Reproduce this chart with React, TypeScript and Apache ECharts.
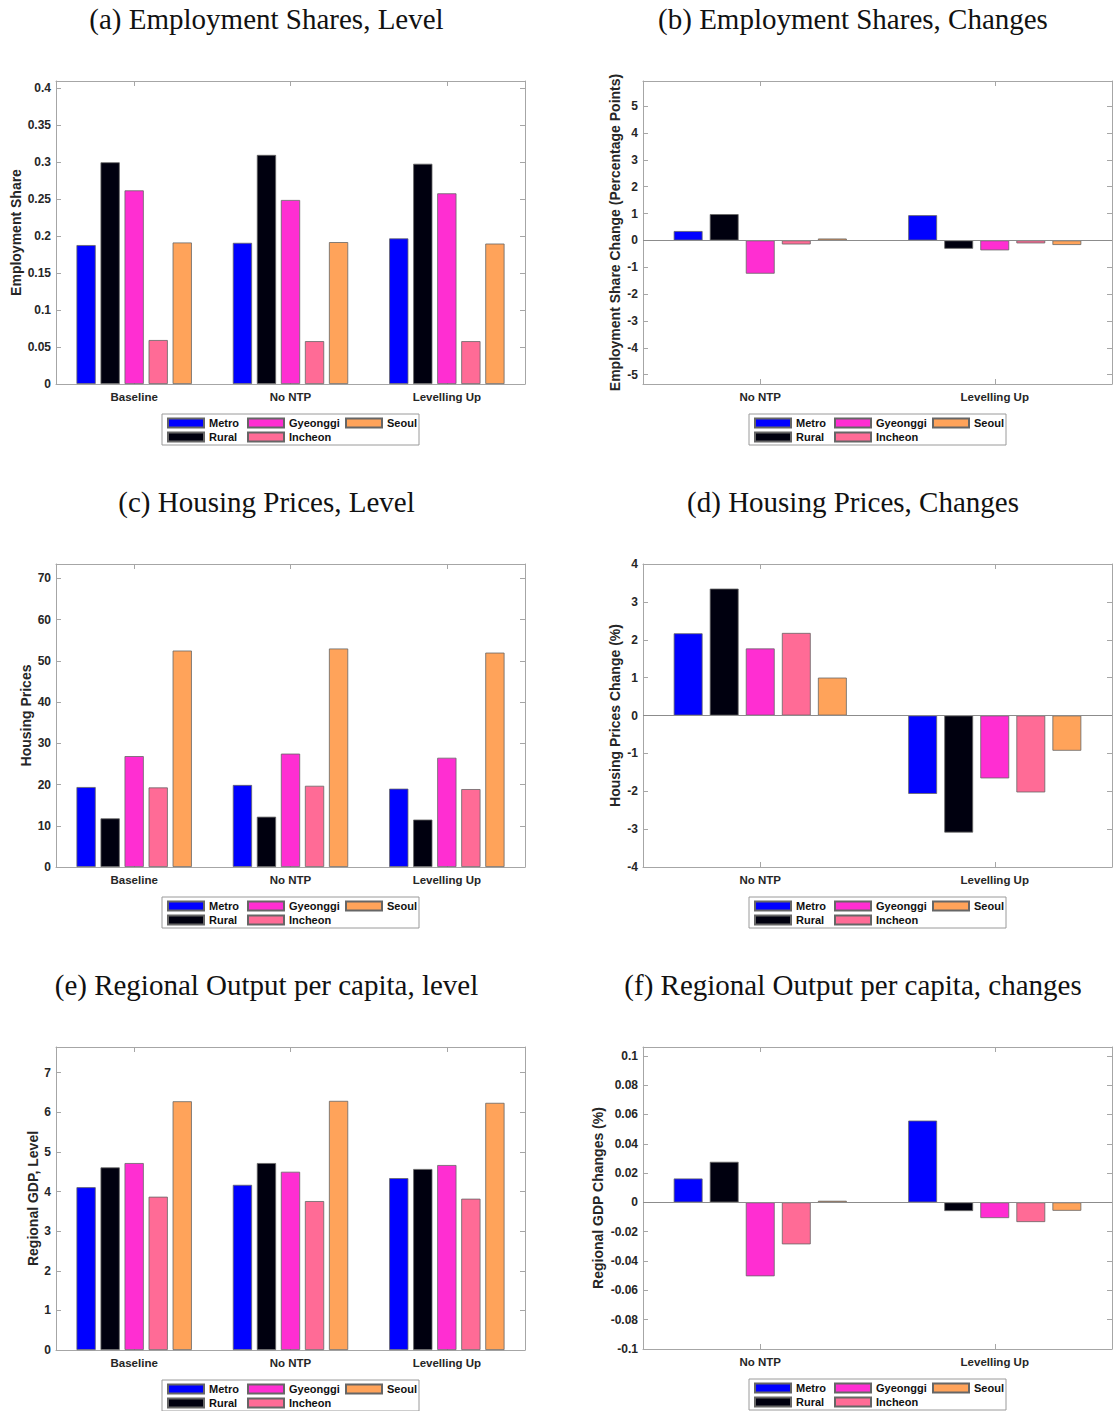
import React, { useEffect, useRef } from "react";
import * as echarts from "echarts";

// ---- categories and series names ----
const SCENARIOS_LEVEL = ["Baseline", "No NTP", "Levelling Up"];
const SCENARIOS_CHANGE = ["No NTP", "Levelling Up"];
const REGIONS = ["Metro", "Rural", "Gyeonggi", "Incheon", "Seoul"];
const REGION_COLORS = ["#0000ff", "#00000f", "#ff2ed2", "#ff6b96", "#ffa35a"];

// ---- (a) employment shares, level (rows follow REGIONS) ----
const empMetro = [0.188, 0.191, 0.197];
const empRural = [0.3, 0.31, 0.298];
const empGyeonggi = [0.262, 0.249, 0.258];
const empIncheon = [0.0595, 0.058, 0.058];
const empSeoul = [0.1915, 0.192, 0.19];

// ---- (b) employment shares, change in percentage points ----
const empChgMetro = [0.35, 0.94];
const empChgRural = [0.98, -0.31];
const empChgGyeonggi = [-1.24, -0.37];
const empChgIncheon = [-0.15, -0.11];
const empChgSeoul = [0.07, -0.17];

// ---- (c) housing prices, level ----
const hpMetro = [19.4, 19.9, 19.0];
const hpRural = [11.8, 12.2, 11.5];
const hpGyeonggi = [26.9, 27.5, 26.5];
const hpIncheon = [19.3, 19.7, 18.9];
const hpSeoul = [52.5, 53.0, 52.0];

// ---- (d) housing prices, change (%) ----
const hpChgMetro = [2.17, -2.07];
const hpChgRural = [3.35, -3.09];
const hpChgGyeonggi = [1.77, -1.66];
const hpChgIncheon = [2.18, -2.03];
const hpChgSeoul = [1.0, -0.93];

// ---- (e) regional output per capita, level ----
const gdpMetro = [4.11, 4.17, 4.34];
const gdpRural = [4.61, 4.72, 4.57];
const gdpGyeonggi = [4.72, 4.5, 4.67];
const gdpIncheon = [3.87, 3.76, 3.82];
const gdpSeoul = [6.28, 6.29, 6.24];

// ---- (f) regional output per capita, change (%) ----
const gdpChgMetro = [0.0163, 0.0558];
const gdpChgRural = [0.0277, -0.0059];
const gdpChgGyeonggi = [-0.0504, -0.0107];
const gdpChgIncheon = [-0.0286, -0.0134];
const gdpChgSeoul = [0.0011, -0.0057];

const SANS = "'Liberation Sans', Arial, Helvetica, sans-serif";
const SERIF = "'Liberation Serif', 'Times New Roman', serif";
const LABEL_COLOR = "#262626";
const FRAME_COLOR = "#a6a6a6";

type Panel = {
  title: string;
  yName: string;
  nameGap: number;
  cats: string[];
  values: number[][];
  yMin: number;
  yMax: number;
  step: number;
  fixedStep: boolean; // true: interval from min; false: nice ticks forced to step
  showMin: boolean;
  showMax: boolean;
  change: boolean;
  left: number;
  top: number;
  height: number;
};

const PLOT_W = 469;
const COL_LEFT = [56, 643];
const ROW_TOP = [81, 564, 1047];

const panels: Panel[] = [
  {
    title: "(a) Employment Shares, Level",
    yName: "Employment Share",
    nameGap: 33,
    cats: SCENARIOS_LEVEL,
    values: [empMetro, empRural, empGyeonggi, empIncheon, empSeoul],
    yMin: 0, yMax: 0.41, step: 0.05, fixedStep: true,
    showMin: true, showMax: false, change: false,
    left: COL_LEFT[0], top: ROW_TOP[0], height: 303,
  },
  {
    title: "(b) Employment Shares, Changes",
    yName: "Employment Share Change (Percentage Points)",
    nameGap: 21,
    cats: SCENARIOS_CHANGE,
    values: [empChgMetro, empChgRural, empChgGyeonggi, empChgIncheon, empChgSeoul],
    yMin: -5.35, yMax: 5.94, step: 1, fixedStep: false,
    showMin: false, showMax: false, change: true,
    left: COL_LEFT[1], top: ROW_TOP[0], height: 303,
  },
  {
    title: "(c) Housing Prices, Level",
    yName: "Housing Prices",
    nameGap: 23,
    cats: SCENARIOS_LEVEL,
    values: [hpMetro, hpRural, hpGyeonggi, hpIncheon, hpSeoul],
    yMin: 0, yMax: 73.5, step: 10, fixedStep: true,
    showMin: true, showMax: false, change: false,
    left: COL_LEFT[0], top: ROW_TOP[1], height: 303,
  },
  {
    title: "(d) Housing Prices, Changes",
    yName: "Housing Prices Change (%)",
    nameGap: 21,
    cats: SCENARIOS_CHANGE,
    values: [hpChgMetro, hpChgRural, hpChgGyeonggi, hpChgIncheon, hpChgSeoul],
    yMin: -4, yMax: 4, step: 1, fixedStep: true,
    showMin: true, showMax: true, change: true,
    left: COL_LEFT[1], top: ROW_TOP[1], height: 303,
  },
  {
    title: "(e) Regional Output per capita, level",
    yName: "Regional GDP, Level",
    nameGap: 16,
    cats: SCENARIOS_LEVEL,
    values: [gdpMetro, gdpRural, gdpGyeonggi, gdpIncheon, gdpSeoul],
    yMin: 0, yMax: 7.65, step: 1, fixedStep: true,
    showMin: true, showMax: false, change: false,
    left: COL_LEFT[0], top: ROW_TOP[2], height: 303,
  },
  {
    title: "(f) Regional Output per capita, changes",
    yName: "Regional GDP Changes (%)",
    nameGap: 38,
    cats: SCENARIOS_CHANGE,
    values: [gdpChgMetro, gdpChgRural, gdpChgGyeonggi, gdpChgIncheon, gdpChgSeoul],
    yMin: -0.1, yMax: 0.106, step: 0.02, fixedStep: true,
    showMin: true, showMax: false, change: true,
    left: COL_LEFT[1], top: ROW_TOP[2], height: 302,
  },
];

const frameLine = { show: true, onZero: false, lineStyle: { color: FRAME_COLOR, width: 1 } };
const innerTick = { show: true, inside: true, length: 5, lineStyle: { color: FRAME_COLOR, width: 1 } };

function buildOption() {
  const grid: any[] = [];
  const xAxis: any[] = [];
  const yAxis: any[] = [];
  const series: any[] = [];
  const legend: any[] = [];
  const graphic: any[] = [];

  panels.forEach((p, i) => {
    grid.push({ left: p.left, top: p.top, width: PLOT_W, height: p.height, containLabel: false });

    // bottom and top category axes (the top one only closes the frame)
    xAxis.push({
      gridIndex: i,
      type: "category",
      data: p.cats,
      position: "bottom",
      axisLine: frameLine,
      axisTick: { ...innerTick, alignWithLabel: true },
      axisLabel: {
        margin: 7,
        fontFamily: SANS,
        fontSize: 11.5,
        fontWeight: "bold",
        color: LABEL_COLOR,
      },
      splitLine: { show: false },
    });
    xAxis.push({
      gridIndex: i,
      type: "category",
      data: p.cats,
      position: "top",
      axisLine: frameLine,
      axisTick: { ...innerTick, alignWithLabel: true },
      axisLabel: { show: false },
      splitLine: { show: false },
    });

    const scale: any = { min: p.yMin, max: p.yMax };
    if (p.fixedStep) scale.interval = p.step;
    else {
      scale.minInterval = p.step;
      scale.maxInterval = p.step;
    }

    yAxis.push({
      gridIndex: i,
      type: "value",
      position: "left",
      ...scale,
      name: p.yName,
      nameLocation: "middle",
      nameRotate: 90,
      nameGap: p.nameGap,
      nameTextStyle: { fontFamily: SANS, fontSize: 14, fontWeight: "bold", color: LABEL_COLOR },
      axisLine: frameLine,
      axisTick: innerTick,
      splitLine: { show: false },
      axisLabel: {
        margin: 5,
        fontFamily: SANS,
        fontSize: 12,
        fontWeight: "bold",
        color: LABEL_COLOR,
        showMinLabel: p.showMin,
        showMaxLabel: p.showMax,
      },
    });
    yAxis.push({
      gridIndex: i,
      type: "value",
      position: "right",
      ...scale,
      axisLine: frameLine,
      axisTick: innerTick,
      splitLine: { show: false },
      axisLabel: { show: false },
    });

    REGIONS.forEach((name, r) => {
      const s: any = {
        type: "bar",
        name,
        xAxisIndex: 2 * i,
        yAxisIndex: 2 * i,
        data: p.values[r],
        barWidth: "12.3%",
        barGap: "25%",
        itemStyle: { color: REGION_COLORS[r], borderColor: "#666666", borderWidth: 0.8 },
        emphasis: { disabled: true },
      };
      if (p.change && r === 0) {
        s.markLine = {
          silent: true,
          symbol: "none",
          label: { show: false },
          lineStyle: { color: "#8c8c8c", width: 1, type: "solid" },
          data: [{ yAxis: 0 }],
        };
      }
      series.push(s);
    });

    // legend: three columns inside a framed box centred under the plot
    const cx = p.left + PLOT_W / 2;
    const boxLeft = cx - 128.5;
    const plotBottom = p.top + p.height;
    const legendTop = plotBottom + 33;
    const columns = [["Metro", "Rural"], ["Gyeonggi", "Incheon"], ["Seoul"]];
    const colOffsets = [5, 85, 183];
    columns.forEach((names, c) => {
      legend.push({
        data: names,
        orient: "vertical",
        left: boxLeft + colOffsets[c],
        top: legendTop,
        padding: 0,
        itemGap: 2,
        itemWidth: 36,
        itemHeight: 9,
        icon: "rect",
        selectedMode: false,
        textStyle: {
          fontFamily: SANS,
          fontSize: 11,
          fontWeight: "bold",
          color: "#111111",
          lineHeight: 12,
        },
      });
    });
    graphic.push({
      type: "rect",
      silent: true,
      shape: { x: boxLeft, y: plotBottom + 30, width: 257, height: 31 },
      style: { fill: "rgba(0,0,0,0)", stroke: "#9a9a9a", lineWidth: 1 },
    });

    // panel title
    const titleX = i % 2 === 0 ? 266.5 : 853;
    graphic.push({
      type: "text",
      silent: true,
      x: titleX,
      y: p.top - 62,
      style: {
        text: p.title,
        fontFamily: SERIF,
        fontSize: 29,
        fill: "#111111",
        textAlign: "center",
        textVerticalAlign: "middle",
      },
    });
  });

  return {
    animation: false,
    backgroundColor: "#ffffff",
    grid,
    xAxis,
    yAxis,
    series,
    legend,
    graphic,
  };
}

export default function App() {
  const ref = useRef<HTMLDivElement>(null);

  useEffect(() => {
    if (!ref.current) return;
    const chart = echarts.init(ref.current, undefined, { renderer: "svg" });
    chart.setOption(buildOption());
    return () => chart.dispose();
  }, []);

  return (
    <div
      ref={ref}
      style={{ position: "absolute", left: 0, top: 0, width: 1115, height: 1411 }}
    />
  );
}
